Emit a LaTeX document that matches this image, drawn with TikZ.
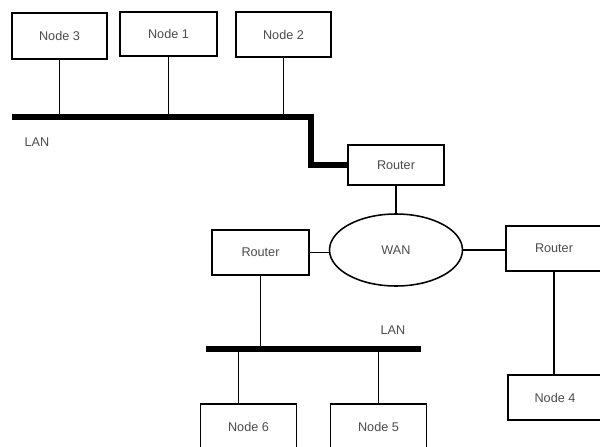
\documentclass[tikz,border=0pt]{standalone}
\usepackage{fontspec}
\setmainfont{Liberation Sans}
\usetikzlibrary{shapes.geometric, calc}

\begin{document}
\begin{tikzpicture}[x=0.025cm, y=-0.025cm,
    host/.style={rectangle, draw, line width=1.1pt, fill=white,
                 font=\fontsize{9}{10}\selectfont, text=black!70},
    link/.style={line width=1.4pt},
    bus/.style={line width=4pt},
    netlabel/.style={font=\fontsize{9}{10}\selectfont, text=black!70}]
          \useasboundingbox (0,0) rectangle (600,447);
          \clip (0,0) rectangle (600,447);
          % upper network
          \node[host, minimum width=95*0.025cm, minimum height=46*0.025cm] (n3) at (59.5,36)   {Node 3};
          \node[host, minimum width=97*0.025cm, minimum height=44*0.025cm] (n1) at (168.5,34)  {Node 1};
          \node[host, minimum width=95*0.025cm, minimum height=45*0.025cm] (n2) at (283.5,34.5){Node 2};
          \coordinate (lan1w) at (12,117);
          \coordinate (lan1e) at (311,117);
          \node[netlabel] (lan1) at (37,142) {LAN};
          % routers and wan
          \node[host, minimum width=96*0.025cm, minimum height=40*0.025cm] (rt) at (396,165) {Router};
          \node[ellipse, draw, line width=1.1pt, minimum width=133*0.025cm, minimum height=72*0.025cm,
                font=\fontsize{9}{10}\selectfont, text=black!70] (wan) at (396,250) {WAN};
          \node[host, minimum width=97*0.025cm, minimum height=45*0.025cm] (rl) at (260.5,252.5) {Router};
          \node[host, minimum width=96*0.025cm, minimum height=45*0.025cm] (rr) at (554,248.5) {Router};
          \node[host, minimum width=94*0.025cm, minimum height=45*0.025cm] (n4) at (555,397.5) {Node 4};
          % lower network
          \coordinate (lan2w) at (206,349);
          \coordinate (lan2e) at (421,349);
          \node[netlabel] (lan2) at (393,330) {LAN};
          \node[host, minimum width=96*0.025cm, minimum height=46*0.025cm] (n6) at (248.5,427) {Node 6};
          \node[host, minimum width=96*0.025cm, minimum height=46*0.025cm] (n5) at (378.5,427) {Node 5};
          % connections
          \draw[bus] (lan1w) -- (lan1e) |- (rt.west);
          \draw[link] (n3.south) -- (n3.south |- lan1w);
          \draw[link] (n1.south) -- (n1.south |- lan1w);
          \draw[link] (n2.south) -- (n2.south |- lan1w);
          \draw[link] (rt.south) -- (wan.north);
          \draw[link] (rl.east) -- (rl.east -| wan.west);
          \draw[link] (wan.east) -- (wan.east -| rr.west);
          \draw[link] (rr.south) -- (rr.south |- n4.north);
          \draw[bus] (lan2w) -- (lan2e);
          \draw[link] (rl.south) -- (rl.south |- lan2w);
          \draw[link] (n6.north) ++(-10,0) coordinate (t6) -- (t6 |- lan2w);
          \draw[link] (n5.north) -- (n5.north |- lan2w);
        \end{tikzpicture}
\end{document}
